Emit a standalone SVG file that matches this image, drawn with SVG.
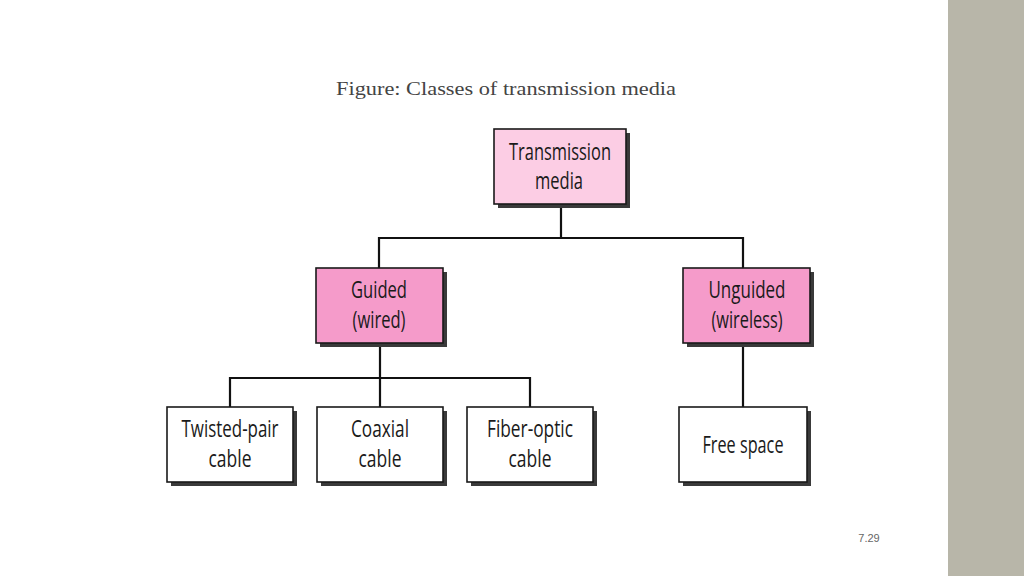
<svg xmlns="http://www.w3.org/2000/svg" width="1024" height="576" viewBox="0 0 1024 576">
<style>
.shadow{fill:#3a3a3a}
.box{stroke:#1a1a1a;stroke-width:1.6}
.light{fill:#fccde4}
.pink{fill:#f59bca}
.white{fill:#ffffff}
.lbl{font-family:"Open Sans","Liberation Sans",sans-serif;font-size:23px;fill:#1a1a1a;text-anchor:middle}
.conn{fill:none;stroke:#111;stroke-width:2.2}
</style>
<rect x="0" y="0" width="1024" height="576" fill="#ffffff"/>
<rect x="948" y="0" width="76" height="576" fill="#b8b6a9"/>
<text x="506" y="95" font-family="'Liberation Serif',serif" font-size="19" fill="#444" text-anchor="middle" textLength="340" lengthAdjust="spacingAndGlyphs">Figure: Classes of transmission media</text>
<text x="869" y="542" font-family="'Liberation Sans',sans-serif" font-size="11" fill="#666" text-anchor="middle">7.29</text>
<g id="connectors">
<path class="conn" d="M561 204V238M379 238H743M379 237V268M743 237V268"/>
<path class="conn" d="M380 343V378M230 378H530M230 377V407M380 377V407M530 377V407"/>
<path class="conn" d="M743 343V407"/>
</g>
<g id="transmission">
<rect class="shadow" x="498" y="133" width="132" height="75"/>
<rect class="box light" x="494" y="129" width="132" height="75"/>
<text class="lbl" x="560" y="160" textLength="102" lengthAdjust="spacingAndGlyphs">Transmission</text>
<text class="lbl" x="559" y="189" textLength="48" lengthAdjust="spacingAndGlyphs">media</text>
</g>
<g id="guided">
<rect class="shadow" x="320" y="272" width="127" height="75"/>
<rect class="box pink" x="316" y="268" width="127" height="75"/>
<text class="lbl" x="379" y="298" textLength="56" lengthAdjust="spacingAndGlyphs">Guided</text>
<text class="lbl" x="379" y="328" textLength="53" lengthAdjust="spacingAndGlyphs">(wired)</text>
</g>
<g id="unguided">
<rect class="shadow" x="687" y="272" width="127" height="75"/>
<rect class="box pink" x="683" y="268" width="127" height="75"/>
<text class="lbl" x="747" y="298" textLength="77" lengthAdjust="spacingAndGlyphs">Unguided</text>
<text class="lbl" x="747" y="328" textLength="71" lengthAdjust="spacingAndGlyphs">(wireless)</text>
</g>
<g id="twisted">
<rect class="shadow" x="171" y="411" width="126" height="75"/>
<rect class="box white" x="167" y="407" width="126" height="75"/>
<text class="lbl" x="230" y="437" textLength="97" lengthAdjust="spacingAndGlyphs">Twisted-pair</text>
<text class="lbl" x="230" y="467" textLength="43" lengthAdjust="spacingAndGlyphs">cable</text>
</g>
<g id="coaxial">
<rect class="shadow" x="321" y="411" width="126" height="75"/>
<rect class="box white" x="317" y="407" width="126" height="75"/>
<text class="lbl" x="380" y="437" textLength="58" lengthAdjust="spacingAndGlyphs">Coaxial</text>
<text class="lbl" x="380" y="467" textLength="43" lengthAdjust="spacingAndGlyphs">cable</text>
</g>
<g id="fiber">
<rect class="shadow" x="471" y="411" width="126" height="75"/>
<rect class="box white" x="467" y="407" width="126" height="75"/>
<text class="lbl" x="530" y="437" textLength="86" lengthAdjust="spacingAndGlyphs">Fiber-optic</text>
<text class="lbl" x="530" y="467" textLength="43" lengthAdjust="spacingAndGlyphs">cable</text>
</g>
<g id="freespace">
<rect class="shadow" x="683" y="411" width="128" height="75"/>
<rect class="box white" x="679" y="407" width="128" height="75"/>
<text class="lbl" x="743" y="453" textLength="81" lengthAdjust="spacingAndGlyphs">Free space</text>
</g>
</svg>
